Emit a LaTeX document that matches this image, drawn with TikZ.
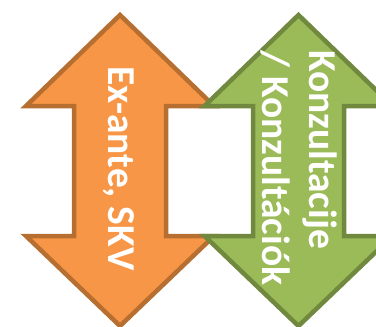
\documentclass[tikz,border=0pt]{standalone}
\usepackage{fontspec}
\setmainfont{Carlito}
\definecolor{orF}{HTML}{F79646}
\definecolor{orD}{HTML}{B66F31}
\definecolor{grF}{HTML}{9BBB59}
\definecolor{grD}{HTML}{71893F}
\tikzset{
  dblarrow/.style={line width=4.5pt, line join=miter},
  lbl/.style={rotate=-90, anchor=base west, inner sep=0pt, text=white,
    font=\fontsize{39.5}{47}\selectfont\bfseries}
}
\begin{document}
\begin{tikzpicture}[x=1pt,y=-1pt]
\useasboundingbox (0,0) rectangle (376,327);
\clip (0,0) rectangle (376,327);
% orange double arrow
\draw[dblarrow, fill=orF, draw=orD]
  (120,15) -- (26,106) -- (74,106) -- (74,236) -- (26,236) -- (120,326)
  -- (214,236) -- (166,236) -- (166,106) -- (214,106) -- cycle;
% green double arrow
\draw[dblarrow, fill=grF, draw=grD]
  (298.5,15) -- (204.5,106) -- (253,106) -- (253,236) -- (204.5,236) -- (298.5,326)
  -- (392.5,236) -- (344,236) -- (344,106) -- (392.5,106) -- cycle;
\node[lbl] (t1) at (108,66) {Ex-ante, SKV};
\node[lbl] (t2) at (309,50) {Konzultacije};
\node[lbl] (t3) at (262,50) {/ Konzultációk};
\end{tikzpicture}
\end{document}
